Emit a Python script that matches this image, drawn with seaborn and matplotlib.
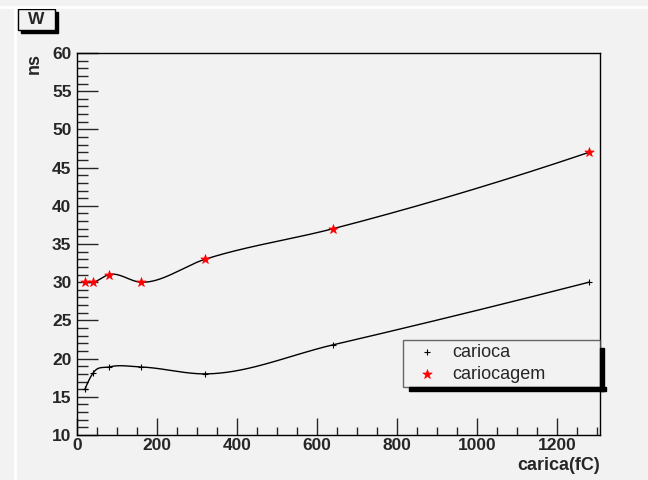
import numpy as np
import pandas as pd
import matplotlib
matplotlib.use("Agg")
import matplotlib.pyplot as plt
import seaborn as sns
from matplotlib.patches import Rectangle
from matplotlib.ticker import MultipleLocator

charge = [20, 40, 80, 160, 320, 640, 1280]
carioca = [16.0, 18.1, 18.9, 18.9, 18.0, 21.8, 30.0]
cariocagem = [30.0, 30.0, 31.0, 30.0, 33.0, 37.0, 47.0]
series_names = ["carioca", "cariocagem"]

XMAX = 1307.5
YMIN, YMAX = 10, 60
AX_W_PX, AX_H_PX = 523, 382


def smooth_curve(x, y, per_seg=120):
    # piecewise cubic Hermite with Bessel (three-point parabola) tangents
    x = np.asarray(x, float); y = np.asarray(y, float)
    n = len(x)
    h = np.diff(x)
    d = np.diff(y) / h
    m = np.empty(n)
    for i in range(1, n - 1):
        m[i] = (h[i] * d[i - 1] + h[i - 1] * d[i]) / (h[i - 1] + h[i])
    m[0] = ((2 * h[0] + h[1]) * d[0] - h[0] * d[1]) / (h[0] + h[1])
    m[-1] = ((2 * h[-1] + h[-2]) * d[-1] - h[-1] * d[-2]) / (h[-1] + h[-2])
    xs, ys = [], []
    for i in range(n - 1):
        t = np.linspace(0, 1, per_seg, endpoint=(i == n - 2))
        h00 = 2 * t**3 - 3 * t**2 + 1
        h10 = t**3 - 2 * t**2 + t
        h01 = -2 * t**3 + 3 * t**2
        h11 = t**3 - t**2
        xs.append(x[i] + t * h[i])
        ys.append(h00 * y[i] + h10 * h[i] * m[i] + h01 * y[i + 1] + h11 * h[i] * m[i + 1])
    return np.concatenate(xs), np.concatenate(ys)


sns.set_style("white")
plt.rcParams['font.family'] = ['Liberation Sans', 'DejaVu Sans']

bg = "#f2f2f2"
fig = plt.figure(figsize=(6.48, 4.8), dpi=100)
fig.patch.set_facecolor(bg)

fig.add_artist(plt.Line2D([0, 1], [1 - 7 / 480, 1 - 7 / 480], color="white", lw=2, transform=fig.transFigure))
fig.add_artist(plt.Line2D([15 / 648, 15 / 648], [0, 1 - 7 / 480], color="white", lw=2, transform=fig.transFigure))

ax = fig.add_axes([77 / 648, 45 / 480, AX_W_PX / 648, AX_H_PX / 480])
ax.set_facecolor(bg)

c1x, c1y = smooth_curve(charge, carioca)
c2x, c2y = smooth_curve(charge, cariocagem)
df_line = pd.DataFrame({
    "x": np.concatenate([c1x, c2x]),
    "y": np.concatenate([c1y, c2y]),
    "s": [series_names[0]] * len(c1x) + [series_names[1]] * len(c2x),
})
sns.lineplot(data=df_line, x="x", y="y", units="s", estimator=None, sort=False,
             color="black", lw=1.0, ax=ax, legend=False)

df_pts1 = pd.DataFrame({"x": charge, "y": carioca})
df_pts2 = pd.DataFrame({"x": charge, "y": cariocagem})
sns.scatterplot(data=df_pts1, x="x", y="y", marker="+", color="black", s=16, linewidth=0.8, ax=ax, label=series_names[0], zorder=3)
sns.scatterplot(data=df_pts2, x="x", y="y", marker="*", color="red", edgecolor="red", s=50, linewidth=0.5, ax=ax, label=series_names[1], zorder=3)

ax.set_xlim(0, XMAX)
ax.set_ylim(YMIN, YMAX)
ax.xaxis.set_major_locator(MultipleLocator(200))
ax.xaxis.set_minor_locator(MultipleLocator(50))
ax.yaxis.set_major_locator(MultipleLocator(5))
ax.yaxis.set_minor_locator(MultipleLocator(1))
ax.tick_params(axis="y", which="major", direction="in", length=15, width=1, pad=4, labelsize=12.5, left=True, right=False)
ax.tick_params(axis="y", which="minor", direction="in", length=8, width=1, left=True, right=False)
ax.tick_params(axis="x", which="major", direction="in", length=12, width=1, pad=2, labelsize=12.5, bottom=True, top=False)
ax.tick_params(axis="x", which="minor", direction="in", length=6, width=1, bottom=True, top=False)
for lab in ax.get_xticklabels() + ax.get_yticklabels():
    lab.set_fontweight("bold")
for sp in ax.spines.values():
    sp.set_color("black"); sp.set_linewidth(1)

ax.set_xlabel("carica(fC)", fontsize=13, fontweight="bold", loc="right", labelpad=3)
ax.set_ylabel("ns", fontsize=13, fontweight="bold", loc="top")
ax.yaxis.set_label_coords(-34 / AX_W_PX, 1.0)

leg = ax.legend(loc="upper left",
                bbox_to_anchor=((403 - 77) / AX_W_PX, (435 - 390) / AX_H_PX, 197 / AX_W_PX, 50 / AX_H_PX),
                mode="expand", frameon=True, fancybox=False, shadow=False, fontsize=13,
                handlelength=2.3, handletextpad=0.25, borderpad=0.2, labelspacing=0.3, borderaxespad=0)
leg.get_frame().set_facecolor(bg)
leg.get_frame().set_edgecolor("#444444")
leg.get_frame().set_linewidth(1)
fig.canvas.draw()
bb = leg.get_window_extent().transformed(fig.transFigure.inverted())
fig.add_artist(Rectangle((bb.x0 + 6 / 648, bb.y0 - 4 / 480), bb.width, 4 / 480, color="black", transform=fig.transFigure, zorder=1))
fig.add_artist(Rectangle((bb.x1, bb.y0 - 4 / 480), 4 / 648, bb.height - 4 / 480, color="black", transform=fig.transFigure, zorder=1))
leg.set_zorder(10)

x0, y0, w, h = 18 / 648, 1 - 30 / 480, 37 / 648, 21 / 480
fig.add_artist(Rectangle((x0 + 3 / 648, y0 - 3 / 480), w, h, color="black", transform=fig.transFigure))
fig.add_artist(Rectangle((x0, y0), w, h, facecolor=bg, edgecolor="black", lw=1, transform=fig.transFigure))
fig.text(x0 + w / 2, y0 + h / 2, "W", ha="center", va="center", fontsize=12.5, fontweight="bold")

fig.savefig("out.png", dpi=100, facecolor=bg)
